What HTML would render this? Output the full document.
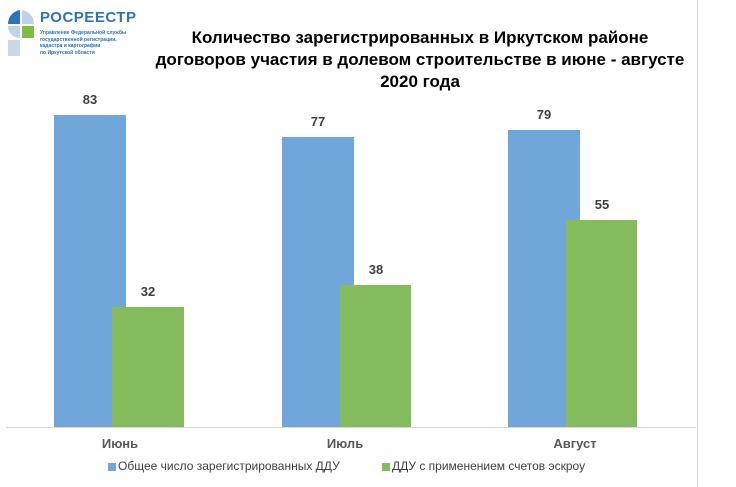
<!DOCTYPE html>
<html><head><meta charset="utf-8"><style>
body{margin:0;width:736px;height:487px;background:#fff;overflow:hidden;position:relative;font-family:"Liberation Sans","DejaVu Sans",sans-serif}
.a{position:absolute}
.b{position:absolute;background:#70a6da}
.g{position:absolute;background:#84bb5c}
.v{position:absolute;width:72px;text-align:center;font-size:13px;font-weight:bold;color:#404040}
.c{position:absolute;font-size:13px;font-weight:bold;color:#595959;width:100px;text-align:center}
</style></head><body>
<svg class="a" style="left:6px;top:8px" width="30" height="52" viewBox="0 0 30 52">
<path d="M14 2 A14 14 0 0 0 2 16 L14 16 Z" fill="#2d73b8"/>
<path d="M16 2 A14 14 0 0 1 28 16 L16 16 Z" fill="#bcd3e8"/>
<path d="M2 18 L14 18 L14 30 A12 12 0 0 1 2 18Z" fill="#bcd3e8"/>
<rect x="16" y="18" width="12" height="12" fill="#7ebc44"/>
<rect x="2" y="32" width="12" height="16" fill="#c9d9e8"/>
</svg>
<div class="a" style="left:40px;top:9px;font-size:15px;font-weight:bold;color:#2d73b8;letter-spacing:0.5px">РОСРЕЕСТР</div>
<div class="a" style="left:40px;top:30px;font-size:5px;line-height:6.5px;color:#2d73b8;font-weight:bold">Управление Федеральной службы<br>государственной регистрации,<br>кадастра и картографии<br>по Иркутской области</div>
<div class="a" style="left:140px;top:27px;width:560px;text-align:center;font-size:17px;font-weight:bold;line-height:22px;color:#000">Количество зарегистрированных в Иркутском районе<br>договоров участия в долевом строительстве в июне - августе<br>2020 года</div>
<div class="a" style="left:697px;top:0;width:1px;height:487px;background:#d9d9d9"></div>
<div class="b" style="left:54px;top:115px;width:72px;height:312px"></div>
<div class="g" style="left:112px;top:307px;width:72px;height:120px"></div>
<div class="b" style="left:282px;top:137px;width:72px;height:290px"></div>
<div class="g" style="left:340px;top:285px;width:71px;height:142px"></div>
<div class="b" style="left:508px;top:130px;width:72px;height:297px"></div>
<div class="g" style="left:566px;top:220px;width:71px;height:207px"></div>
<div class="a" style="left:6px;top:427px;width:690px;height:1px;background:#d9d9d9"></div>
<div class="v" style="left:54px;top:92px">83</div>
<div class="v" style="left:112px;top:284px">32</div>
<div class="v" style="left:282px;top:114px">77</div>
<div class="v" style="left:340px;top:262px">38</div>
<div class="v" style="left:508px;top:107px">79</div>
<div class="v" style="left:566px;top:197px">55</div>
<div class="c" style="left:70px;top:436px">Июнь</div>
<div class="c" style="left:295px;top:436px">Июль</div>
<div class="c" style="left:525px;top:436px">Август</div>
<div class="a" style="left:108px;top:463px;width:8px;height:8px;background:#70a6da"></div>
<div class="a" style="left:118px;top:459px;font-size:12px;color:#404040">Общее число зарегистрированных ДДУ</div>
<div class="a" style="left:382px;top:463px;width:8px;height:8px;background:#84bb5c"></div>
<div class="a" style="left:392px;top:459px;font-size:12px;color:#404040">ДДУ с применением счетов эскроу</div>
</body></html>
